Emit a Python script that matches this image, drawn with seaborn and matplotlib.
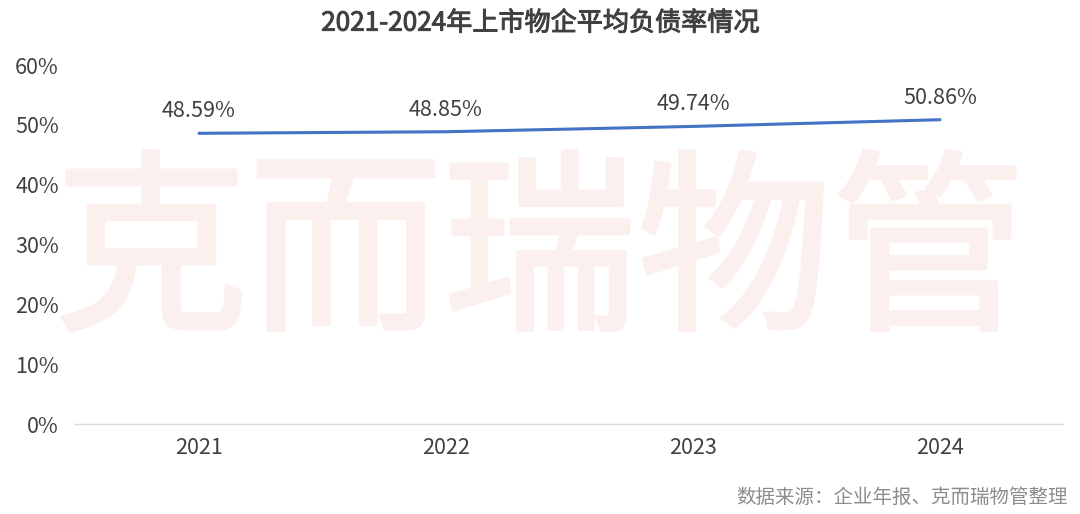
import matplotlib
matplotlib.use("Agg")
import matplotlib.pyplot as plt
import matplotlib.patheffects as pe
import seaborn as sns
import pandas as pd

# data
years = ["2021", "2022", "2023", "2024"]
debt_ratio = [48.59, 48.85, 49.74, 50.86]
y_ticks = [0, 10, 20, 30, 40, 50, 60]

title = "2021-2024年上市物企平均负债率情况"
source = "数据来源：企业年报、克而瑞物管整理"
watermark = "克而瑞物管"

sns.set_theme(style="white")
plt.rcParams["font.family"] = ["Noto Sans CJK SC", "DejaVu Sans"]

df = pd.DataFrame({"year": years, "ratio": debt_ratio})

fig = plt.figure(figsize=(10.8, 5.14), dpi=100)
ax = fig.add_axes([0.0699, 0.175, 0.9148, 0.6985])

# watermark behind the plot, thickened a little with a same-colour stroke
wm_color = "#fcf0ee"
fig.text(0.5, 0.495, watermark, fontsize=140, color=wm_color,
         ha="center", va="center", zorder=0,
         path_effects=[pe.withStroke(linewidth=3, foreground=wm_color)])
ax.patch.set_alpha(0)

sns.lineplot(data=df, x="year", y="ratio", ax=ax, color="#4472c4",
             linewidth=2.2, sort=False)

for i, v in enumerate(debt_ratio):
    ax.annotate(f"{v:.2f}%", (i, v), xytext=(0, 8), textcoords="offset points",
                ha="center", va="bottom", fontsize=15.5, color="#404040")

ax.set_xlim(-0.5, len(years) - 0.5)
ax.set_ylim(0, 60)
ax.set_yticks(y_ticks)
ax.set_yticklabels([f"{t}%" for t in y_ticks])
ax.set_xlabel("")
ax.set_ylabel("")
ax.tick_params(axis="both", length=0, labelsize=15.5, labelcolor="#404040")
ax.tick_params(axis="x", pad=9)
ax.tick_params(axis="y", pad=12)

for side in ["top", "right", "left"]:
    ax.spines[side].set_visible(False)
ax.spines["bottom"].set_color("#d9d9d9")
ax.spines["bottom"].set_linewidth(1)

fig.text(0.5, 0.955, title, ha="center", va="center", fontsize=18.8,
         color="#404040",
         path_effects=[pe.withStroke(linewidth=0.7, foreground="#404040")])
fig.text(0.989, 0.033, source, ha="right", va="center", fontsize=14,
         color="#8c8c8c")

fig.savefig("out.png", dpi=100)
